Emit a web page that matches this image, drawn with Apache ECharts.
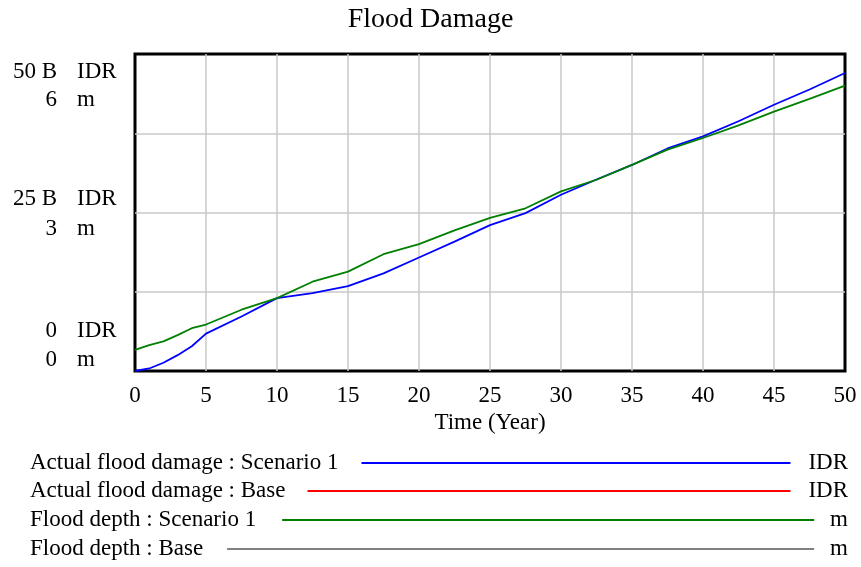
<!DOCTYPE html>
<html>
<head>
<meta charset="utf-8">
<script src="https://cdn.jsdelivr.net/npm/echarts@6/dist/echarts.min.js"></script>
<style>
  html, body { margin: 0; padding: 0; background: #fff; }
  #chart { width: 861px; height: 567px; }
</style>
</head>
<body>
<div id="chart"></div>
<script>
// time axis (years) and the scenario values
const years = [0, 1, 2, 3, 4, 5, 7.5, 10, 12.5, 15, 17.5, 20, 22.5, 25, 27.5, 30, 32.5, 35, 37.5, 40, 42.5, 45, 47.5, 50];
// actual flood damage, billions of IDR
const damageScenario1 = [0, 0.4, 1.3, 2.5, 3.9, 5.9, 8.6, 11.5, 12.3, 13.4, 15.4, 17.9, 20.4, 23.0, 24.9, 27.8, 30.2, 32.5, 35.1, 37.0, 39.4, 42.0, 44.4, 47.0];
const damageBase = [];
// flood depth, m
const depthScenario1 = [0.40, 0.49, 0.56, 0.68, 0.81, 0.88, 1.16, 1.38, 1.69, 1.88, 2.21, 2.40, 2.66, 2.90, 3.08, 3.40, 3.62, 3.90, 4.19, 4.41, 4.65, 4.91, 5.15, 5.40];
const depthBase = [];

const seriesNames = [
  'Actual flood damage : Scenario 1',
  'Actual flood damage : Base',
  'Flood depth : Scenario 1',
  'Flood depth : Base'
];
const seriesUnits = ['IDR', 'IDR', 'm', 'm'];

const idrTickValues = [0, 25, 50];
const idrTickLabels = ['0', '25 B', '50 B'];
const mTickValues = [0, 3, 6];
const mTickLabels = ['0', '3', '6'];

const FONT = '"Liberation Serif", "Times New Roman", serif';
const colors = ['#0000ff', '#ff0000', '#008000', '#808080'];

// Vensim puts each label a bit above/below its gridline; padding does the nudge
function labelRich(shifts) {
  const rich = {};
  shifts.forEach((d, i) => {
    rich['s' + i] = {
      padding: [d > 0 ? 2 * d : 0, 0, d < 0 ? -2 * d : 0, 0],
      fontSize: 23, fontFamily: FONT, color: '#000'
    };
  });
  return rich;
}

function tickFormatter(values, labels) {
  return function (val) {
    const i = values.indexOf(val);
    return i < 0 ? '' : '{s' + i + '|' + labels[i] + '}';
  };
}

// one left axis for the numbers, a twin for the unit words
function leftAxis(max, values, labels, shifts, margin, align, withSplit) {
  return {
    type: 'value',
    position: 'left',
    min: 0,
    max: max,
    interval: max / 4,
    axisLine: { show: false },
    axisTick: { show: false },
    splitLine: {
      show: withSplit, showMinLine: false, showMaxLine: false,
      lineStyle: { color: '#c8c8c8', width: 1.5 }
    },
    axisLabel: {
      margin: margin,
      align: align,
      showMinLabel: true,
      showMaxLabel: true,
      formatter: tickFormatter(values, labels),
      rich: labelRich(shifts)
    }
  };
}

const toPairs = (xs, ys) => ys.map((y, i) => [xs[i], y]);

// legend rows: one legend component each so the line lengths can differ
const legendRows = [463, 491, 520, 549];
const legendLineWidth = [429, 483, 532, 587];
const legendGap = [18, 17, 21, 19];

const idrShifts = [-40, -14, 18];
const mShifts = [-11, 16, 46];

const chart = echarts.init(document.getElementById('chart'));

const option = {
  animation: false,
  backgroundColor: '#fff',
  title: {
    text: 'Flood Damage',
    left: 'center',
    top: 6,
    padding: 0,
    textStyle: { fontFamily: FONT, fontSize: 28, fontWeight: 'normal', color: '#000' }
  },
  grid: {
    left: 135,
    right: 16,
    top: 54,
    bottom: 196,
    show: true,
    borderColor: '#000',
    borderWidth: 3,
    outerBoundsMode: 'none'
  },
  legend: seriesNames.map((name, i) => ({
    data: [name],
    left: 30,
    top: legendRows[i] - 11.5,
    padding: 0,
    align: 'right',
    icon: 'rect',
    itemWidth: legendLineWidth[i],
    itemHeight: 2,
    selectedMode: false,
    textStyle: { fontFamily: FONT, fontSize: 23, color: '#000', padding: [0, legendGap[i], 0, 0] }
  })),
  graphic: seriesUnits.map((u, i) => ({
    type: 'text',
    right: 13,
    top: legendRows[i] - 12,
    style: { text: u, fontFamily: FONT, fontSize: 23, fill: '#000' }
  })),
  xAxis: {
    type: 'value',
    min: 0,
    max: 50,
    interval: 5,
    name: 'Time (Year)',
    nameLocation: 'middle',
    nameGap: 40,
    nameTextStyle: { fontFamily: FONT, fontSize: 23, color: '#000' },
    axisLine: { show: false },
    axisTick: { show: false },
    axisLabel: { fontFamily: FONT, fontSize: 23, color: '#000', margin: 13 },
    splitLine: { show: true, showMinLine: false, showMaxLine: false, lineStyle: { color: '#c8c8c8', width: 1.5 } }
  },
  yAxis: [
    leftAxis(50, idrTickValues, idrTickLabels, idrShifts, 78, 'right', true),
    leftAxis(6, mTickValues, mTickLabels, mShifts, 78, 'right', false),
    leftAxis(50, idrTickValues, idrTickValues.map(() => seriesUnits[0]), idrShifts, 58, 'left', false),
    leftAxis(6, mTickValues, mTickValues.map(() => seriesUnits[2]), mShifts, 58, 'left', false)
  ],
  series: [
    { name: seriesNames[0], type: 'line', yAxisIndex: 0, data: toPairs(years, damageScenario1), color: colors[0] },
    { name: seriesNames[1], type: 'line', yAxisIndex: 0, data: toPairs(years, damageBase), color: colors[1] },
    { name: seriesNames[2], type: 'line', yAxisIndex: 1, data: toPairs(years, depthScenario1), color: colors[2] },
    { name: seriesNames[3], type: 'line', yAxisIndex: 1, data: toPairs(years, depthBase), color: colors[3] }
  ].map(s => Object.assign(s, {
    showSymbol: false,
    symbol: 'none',
    lineStyle: { width: 1.8, color: s.color },
    emphasis: { disabled: true }
  }))
};

chart.setOption(option);
</script>
</body>
</html>
